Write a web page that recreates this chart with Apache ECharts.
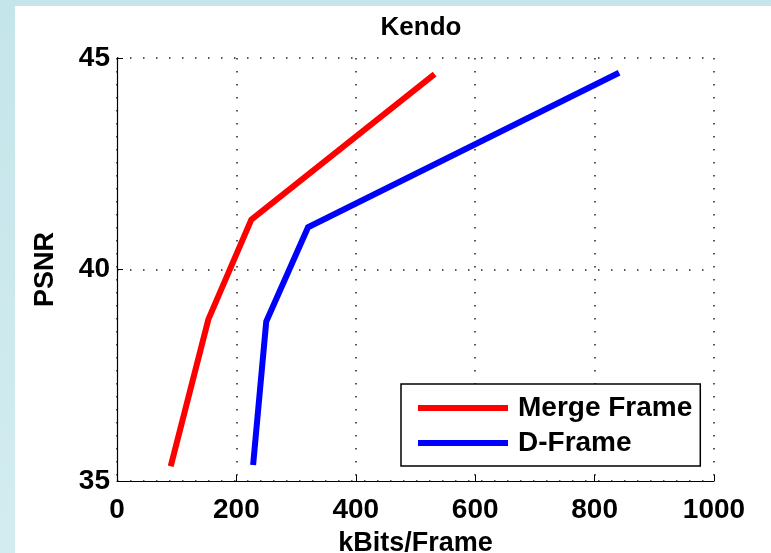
<!DOCTYPE html>
<html>
<head>
<meta charset="utf-8">
<script src="https://cdn.jsdelivr.net/npm/echarts@6/dist/echarts.min.js"></script>
<style>
  html, body { margin: 0; padding: 0; }
  #main { width: 771px; height: 553px; }
</style>
</head>
<body>
<div id="main"></div>
<script>
// values
var seriesNames = ['Merge Frame', 'D-Frame'];
var mergeRate = [90, 153, 225, 532];
var mergePsnr = [35.35, 38.82, 41.18, 44.62];
var dRate = [228, 250, 320, 841];
var dPsnr = [35.38, 38.77, 41.0, 44.65];

function pairs(xs, ys) {
    return xs.map(function (x, i) { return [x, ys[i]]; });
}

var font = '"Liberation Sans", Arial, sans-serif';

var dom = document.getElementById('main');
var myChart = echarts.init(dom, null, { renderer: 'canvas' });

var option = {
    backgroundColor: {
        type: 'linear', x: 0, y: 0, x2: 0, y2: 1,
        colorStops: [
            { offset: 0, color: '#c4e5ea' },
            { offset: 1, color: '#d3ecf0' }
        ]
    },
    animation: false,
    graphic: [{
        type: 'rect',
        z: -10,
        shape: { x: 15, y: 6, width: 756, height: 547 },
        style: { fill: '#ffffff' }
    }],
    title: {
        text: 'Kendo',
        left: 416,
        textAlign: 'center',
        top: 10,
        textStyle: {
            fontFamily: font,
            fontSize: 26,
            fontWeight: 'bold',
            color: '#000'
        }
    },
    legend: {
        orient: 'vertical',
        left: 401,
        top: 384,
        padding: [9, 8, 8, 17],
        itemGap: 5,
        itemWidth: 90,
        itemHeight: 6,
        icon: 'rect',
        backgroundColor: '#fff',
        borderColor: '#000',
        borderWidth: 1.5,
        borderRadius: 0,
        textStyle: {
            fontFamily: font,
            fontSize: 28,
            fontWeight: 'bold',
            color: '#000',
            lineHeight: 30,
            padding: [0, 0, 0, 5]
        },
        data: seriesNames
    },
    grid: {
        left: 117,
        right: 57,
        top: 58,
        bottom: 72,
        containLabel: false,
        outerBoundsMode: 'none'
    },
    xAxis: {
        type: 'value',
        min: 0,
        max: 1000,
        interval: 200,
        name: 'kBits/Frame',
        nameLocation: 'middle',
        nameGap: 49,
        nameTextStyle: {
            fontFamily: font,
            fontSize: 27,
            fontWeight: 'bold',
            color: '#000'
        },
        axisLine: { show: true, onZero: false, lineStyle: { color: '#000', width: 1.2 } },
        axisTick: { show: true, inside: true, length: 6, lineStyle: { color: '#000' } },
        axisLabel: {
            margin: 15,
            fontFamily: font,
            fontSize: 28,
            fontWeight: 'bold',
            color: '#000',
            formatter: function (v) { return String(v); }
        },
        splitLine: {
            show: true,
            lineStyle: { color: '#222', width: 1.5, type: [1.5, 11.5] }
        }
    },
    yAxis: {
        type: 'value',
        min: 35,
        max: 45,
        interval: 5,
        name: 'PSNR',
        nameLocation: 'middle',
        nameGap: 58,
        nameTextStyle: {
            fontFamily: font,
            fontSize: 27,
            fontWeight: 'bold',
            color: '#000'
        },
        axisLine: { show: true, onZero: false, lineStyle: { color: '#000', width: 1.2 } },
        axisTick: { show: true, inside: true, length: 6, lineStyle: { color: '#000' } },
        axisLabel: {
            margin: 7,
            fontFamily: font,
            fontSize: 28,
            fontWeight: 'bold',
            color: '#000'
        },
        splitLine: {
            show: true,
            lineStyle: { color: '#222', width: 1.5, type: [1.5, 11.5] }
        }
    },
    series: [
        {
            name: seriesNames[0],
            type: 'line',
            data: pairs(mergeRate, mergePsnr),
            showSymbol: false,
            symbol: 'none',
            color: '#ff0000',
            lineStyle: { color: '#ff0000', width: 6, join: 'miter' }
        },
        {
            name: seriesNames[1],
            type: 'line',
            data: pairs(dRate, dPsnr),
            showSymbol: false,
            symbol: 'none',
            color: '#0000ff',
            lineStyle: { color: '#0000ff', width: 6, join: 'miter' }
        }
    ]
};

if (option && typeof option === 'object') {
    myChart.setOption(option, true);
}
</script>
</body>
</html>
